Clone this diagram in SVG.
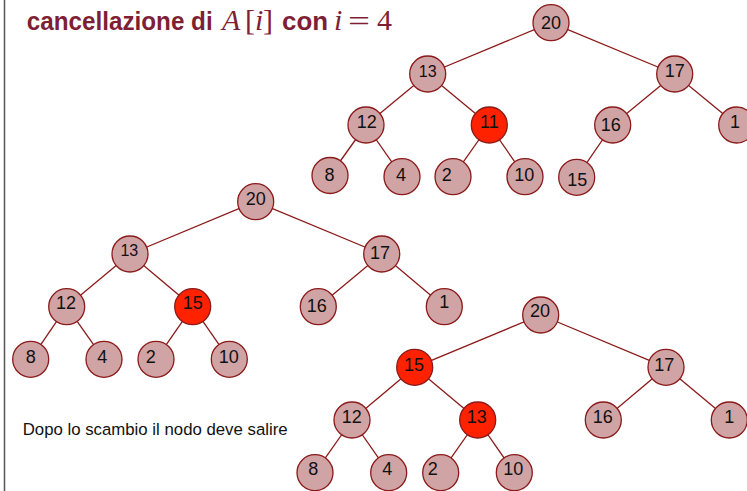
<svg xmlns="http://www.w3.org/2000/svg" width="747" height="491" viewBox="0 0 747 491">
<style>
.n{fill:#d0a3a5;stroke:#8b1a1a;stroke-width:1.3}
.r{fill:#ff2200;stroke:#8b1a1a;stroke-width:1.3}
.t{font-family:"Liberation Sans",Arial,sans-serif;font-size:18px;fill:#111;text-anchor:middle}
.s{font-size:16px}
#edges line{stroke:#8b1a1a;stroke-width:1.3}
.title{font-family:"Liberation Sans",Arial,sans-serif;font-weight:bold;font-size:25px;fill:#7f1f35}
.m{font-family:"Liberation Serif","Times New Roman",serif;font-size:30px;fill:#7f1f35}
.it{font-style:italic}
</style>
<rect width="747" height="491" fill="#fff"/>
<line x1="4.5" y1="0" x2="4.5" y2="491" stroke="#555" stroke-width="1.5"/>
<g id="title">
<text class="title" x="26.7" y="30" textLength="186" lengthAdjust="spacingAndGlyphs">cancellazione di</text>
<text class="m it" x="222" y="30">A</text>
<text class="m" x="245" y="30">[</text>
<text class="m it" x="255" y="30">i</text>
<text class="m" x="263" y="30">]</text>
<text class="title" x="282" y="30" textLength="46" lengthAdjust="spacingAndGlyphs">con</text>
<text class="m it" x="334" y="30">i</text>
<text class="m" x="348" y="31" textLength="22" lengthAdjust="spacingAndGlyphs">=</text>
<text class="m" x="377" y="30">4</text>
</g>
<g id="edges">
<line x1="551" y1="22.7" x2="427.7" y2="74"/>
<line x1="551" y1="22.7" x2="674.7" y2="74"/>
<line x1="427.7" y1="74" x2="366" y2="125"/>
<line x1="427.7" y1="74" x2="489.3" y2="125"/>
<line x1="674.7" y1="74" x2="612.7" y2="125"/>
<line x1="674.7" y1="74" x2="736.7" y2="125"/>
<line x1="366" y1="125" x2="330" y2="175.5"/>
<line x1="366" y1="125" x2="402" y2="176.7"/>
<line x1="489.3" y1="125" x2="453" y2="176.7"/>
<line x1="489.3" y1="125" x2="525" y2="176.7"/>
<line x1="612.7" y1="125" x2="576.7" y2="177.3"/>
<line x1="255.7" y1="201.7" x2="130" y2="254"/>
<line x1="255.7" y1="201.7" x2="381.7" y2="254"/>
<line x1="130" y1="254" x2="66.7" y2="306.7"/>
<line x1="130" y1="254" x2="192.7" y2="306.7"/>
<line x1="381.7" y1="254" x2="318.3" y2="306.7"/>
<line x1="381.7" y1="254" x2="444.3" y2="306.7"/>
<line x1="66.7" y1="306.7" x2="30.7" y2="359.3"/>
<line x1="66.7" y1="306.7" x2="104" y2="359.3"/>
<line x1="192.7" y1="306.7" x2="156" y2="359.3"/>
<line x1="192.7" y1="306.7" x2="229.3" y2="359.3"/>
<line x1="540.7" y1="315" x2="414.7" y2="367.3"/>
<line x1="540.7" y1="315" x2="666" y2="367.3"/>
<line x1="414.7" y1="367.3" x2="352" y2="420"/>
<line x1="414.7" y1="367.3" x2="477.7" y2="420"/>
<line x1="666" y1="367.3" x2="603.3" y2="420"/>
<line x1="666" y1="367.3" x2="729.3" y2="420"/>
<line x1="352" y1="420" x2="315" y2="472.7"/>
<line x1="352" y1="420" x2="388.7" y2="472.7"/>
<line x1="477.7" y1="420" x2="440.7" y2="472.7"/>
<line x1="477.7" y1="420" x2="514.3" y2="472.7"/>
</g>
<g id="t1-20"><circle class="n" cx="551" cy="22.7" r="18"/><text class="t" x="551" y="28.5">20</text></g>
<g id="t1-13"><circle class="n" cx="427.7" cy="74" r="18"/><text class="t s" x="427.7" y="76.7">13</text></g>
<g id="t1-17"><circle class="n" cx="674.7" cy="74" r="18"/><text class="t" x="674.7" y="77.3">17</text></g>
<g id="t1-12"><circle class="n" cx="366" cy="125" r="18"/><text class="t" x="366.7" y="128.3">12</text></g>
<g id="t1-11"><circle class="r" cx="489.3" cy="125" r="18"/><text class="t" x="489.3" y="128.3">11</text></g>
<g id="t1-16"><circle class="n" cx="612.7" cy="125" r="18"/><text class="t" x="610.7" y="130.7">16</text></g>
<g id="t1-1"><circle class="n" cx="736.7" cy="125" r="18"/><text class="t" x="735" y="128.3">1</text></g>
<g id="t1-8"><circle class="n" cx="330" cy="175.5" r="18"/><text class="t" x="329.5" y="181">8</text></g>
<g id="t1-4"><circle class="n" cx="402" cy="176.7" r="18"/><text class="t" x="401" y="181">4</text></g>
<g id="t1-2"><circle class="n" cx="453" cy="176.7" r="18"/><text class="t" x="446.7" y="181">2</text></g>
<g id="t1-10"><circle class="n" cx="525" cy="176.7" r="18"/><text class="t" x="524.3" y="181">10</text></g>
<g id="t1-15"><circle class="n" cx="576.7" cy="177.3" r="18"/><text class="t" x="577.3" y="186">15</text></g>
<g id="t2-20"><circle class="n" cx="255.7" cy="201.7" r="18"/><text class="t" x="255.7" y="205">20</text></g>
<g id="t2-13"><circle class="n" cx="130" cy="254" r="18"/><text class="t s" x="129.3" y="256">13</text></g>
<g id="t2-17"><circle class="n" cx="381.7" cy="254" r="18"/><text class="t" x="380" y="259">17</text></g>
<g id="t2-12"><circle class="n" cx="66.7" cy="306.7" r="18"/><text class="t" x="66" y="309">12</text></g>
<g id="t2-15"><circle class="r" cx="192.7" cy="306.7" r="18"/><text class="t" x="192.7" y="309">15</text></g>
<g id="t2-16"><circle class="n" cx="318.3" cy="306.7" r="18"/><text class="t" x="316.7" y="311.7">16</text></g>
<g id="t2-1"><circle class="n" cx="444.3" cy="306.7" r="18"/><text class="t" x="444.3" y="308.3">1</text></g>
<g id="t2-8"><circle class="n" cx="30.7" cy="359.3" r="18"/><text class="t" x="30.7" y="362.7">8</text></g>
<g id="t2-4"><circle class="n" cx="104" cy="359.3" r="18"/><text class="t" x="102.3" y="362.7">4</text></g>
<g id="t2-2"><circle class="n" cx="156" cy="359.3" r="18"/><text class="t" x="150.7" y="362.7">2</text></g>
<g id="t2-10"><circle class="n" cx="229.3" cy="359.3" r="18"/><text class="t" x="228.7" y="362.7">10</text></g>
<g id="t3-20"><circle class="n" cx="540.7" cy="315" r="18"/><text class="t" x="540" y="317.3">20</text></g>
<g id="t3-15"><circle class="r" cx="414.7" cy="367.3" r="18"/><text class="t" x="414" y="371">15</text></g>
<g id="t3-17"><circle class="n" cx="666" cy="367.3" r="18"/><text class="t" x="664.3" y="371">17</text></g>
<g id="t3-12"><circle class="n" cx="352" cy="420" r="18"/><text class="t" x="351.7" y="423.3">12</text></g>
<g id="t3-13"><circle class="r" cx="477.7" cy="420" r="18"/><text class="t" x="476.7" y="423.3">13</text></g>
<g id="t3-16"><circle class="n" cx="603.3" cy="420" r="18"/><text class="t" x="602.7" y="423.3">16</text></g>
<g id="t3-1"><circle class="n" cx="729.3" cy="420" r="18"/><text class="t" x="729.3" y="423.3">1</text></g>
<g id="t3-8"><circle class="n" cx="315" cy="472.7" r="18"/><text class="t" x="313.3" y="475">8</text></g>
<g id="t3-4"><circle class="n" cx="388.7" cy="472.7" r="18"/><text class="t" x="387.3" y="475">4</text></g>
<g id="t3-2"><circle class="n" cx="440.7" cy="472.7" r="18"/><text class="t" x="432.7" y="475">2</text></g>
<g id="t3-10"><circle class="n" cx="514.3" cy="472.7" r="18"/><text class="t" x="513.3" y="475">10</text></g>
<g id="caption"><text x="22.7" y="435" font-family="'Liberation Sans',Arial,sans-serif" font-size="16.8" fill="#111">Dopo lo scambio il nodo deve salire</text></g>
</svg>
